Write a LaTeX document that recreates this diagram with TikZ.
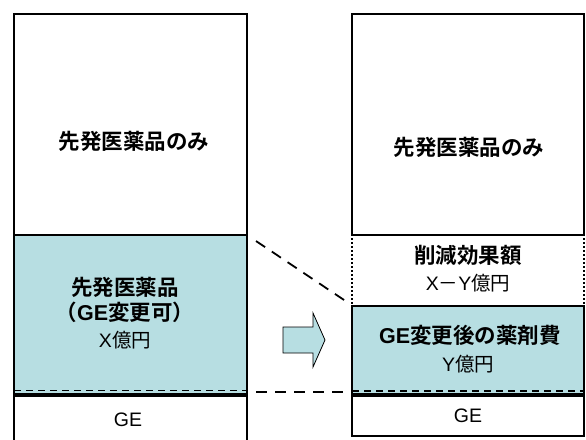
\documentclass[tikz,border=0pt]{standalone}
\usepackage{fontspec}
\setmainfont{Noto Sans CJK JP}
\newfontfamily\jpb{Noto Sans CJK JP Bold}
\newfontfamily\lat{Liberation Sans}
\newfontfamily\latb{Liberation Sans Bold}
\usetikzlibrary{shapes.arrows}
\definecolor{teal1}{RGB}{183,222,226}
\tikzset{
  border/.style={line width=2.2pt, draw=black},
  dotb/.style={line width=2pt, dotted, draw=black},
  guide/.style={line width=1.8pt, dash pattern=on 11pt off 8pt, draw=black},
  bt/.style={font=\jpb\fontsize{21.5}{25}\selectfont, align=center, inner sep=0pt},
  rt/.style={font=\fontsize{19.5}{23}\selectfont, align=center, inner sep=0pt},
}
\begin{document}
\begin{tikzpicture}[x=1pt,y=-1pt]
\useasboundingbox (0,0) rectangle (586,439);
% left column
\fill[teal1] (14,235) rectangle (247,393);
\draw[border] (14,440) -- (14,14) -- (247,14) -- (247,440);
\draw[border] (14,235) -- (247,235);
\draw[line width=3.5pt] (14,395) -- (247,395);
\draw[line width=1.5pt, dash pattern=on 7pt off 5pt] (14,390.5) -- (247,390.5);
\node[bt] (l1) at (134,141) {先発医薬品のみ};
\node[bt] (l2) at (125,300) {先発医薬品\\（{\latb GE}変更可）};
\node[rt] (l3) at (125,340) {{\lat X}億円};
\node[rt] (l4) at (128,420) {\lat GE};
% right column
\fill[teal1] (352,306) rectangle (584,393);
\draw[border] (352,14) rectangle (584,235);
\draw[dotb] (352,238) -- (352,305);
\draw[dotb] (584,238) -- (584,305);
\draw[border] (352,306) rectangle (584,436);
\draw[line width=3.5pt] (352,395) -- (584,395);
\draw[line width=1.2pt, dash pattern=on 7pt off 5pt] (352,391) -- (584,391);
\node[bt] (r1) at (469,147) {先発医薬品のみ};
\node[bt] (r2) at (468,255) {削減効果額};
\node[rt] (r3) at (468,283) {{\lat X}－{\lat Y}億円};
\node[bt] (r4) at (470,335) {{\latb GE}変更後の薬剤費};
\node[rt] (r5) at (468,364) {{\lat Y}億円};
\node[rt] (r6) at (468,416) {\lat GE};
% guides
\coordinate (a1) at (256,241);
\coordinate (a2) at (347,302);
\coordinate (b1) at (256,392);
\coordinate (b2) at (347,392);
\draw[guide] (a1) -- (a2);
\draw[guide] (b1) -- (b2);
% block arrow
\draw[fill=teal1, line width=0.8pt] (283,327) -- (313,327) -- (313,313) -- (325,340) -- (313,367) -- (313,353) -- (283,353) -- cycle;
\end{tikzpicture}
\end{document}
